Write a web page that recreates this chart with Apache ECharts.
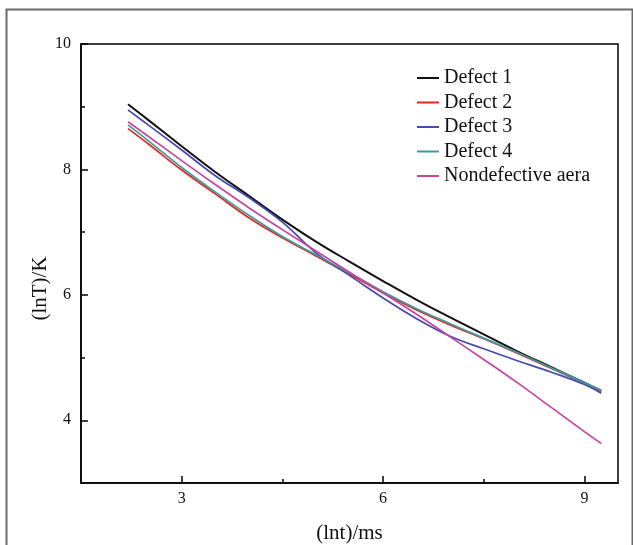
<!DOCTYPE html>
<html>
<head>
<meta charset="utf-8">
<script src="https://cdn.jsdelivr.net/npm/echarts@6/dist/echarts.min.js"></script>
<style>
html,body{margin:0;padding:0;background:#fff;}
#chart{width:633px;height:545px;}
</style>
</head>
<body>
<div id="chart"></div>
<script>
const xValues = [2.2, 2.5, 3, 3.5, 4, 4.5, 5, 5.5, 6, 6.5, 7, 7.5, 8, 8.5, 9, 9.25];
const defect1 = [9.04, 8.79, 8.37, 7.96, 7.58, 7.20, 6.85, 6.53, 6.22, 5.92, 5.64, 5.37, 5.10, 4.85, 4.60, 4.47];
const defect2 = [8.65, 8.41, 7.99, 7.61, 7.23, 6.91, 6.62, 6.33, 6.03, 5.76, 5.52, 5.30, 5.07, 4.83, 4.59, 4.46];
const defect3 = [8.95, 8.71, 8.31, 7.90, 7.55, 7.16, 6.67, 6.31, 5.95, 5.62, 5.34, 5.14, 4.95, 4.77, 4.57, 4.43];
const defect4 = [8.71, 8.46, 8.03, 7.64, 7.27, 6.93, 6.64, 6.35, 6.05, 5.78, 5.54, 5.31, 5.08, 4.84, 4.60, 4.48];
const nondefective = [8.76, 8.53, 8.14, 7.76, 7.39, 7.04, 6.70, 6.36, 6.03, 5.69, 5.33, 4.97, 4.60, 4.21, 3.82, 3.63];
const seriesNames = ['Defect 1', 'Defect 2', 'Defect 3', 'Defect 4', 'Nondefective aera'];
const seriesColors = ['#111111', '#e8261f', '#4848b0', '#3a9ba0', '#c8459f'];
const xMajorTicks = [3, 6, 9];
const xMinorTicks = [4.5, 7.5];
const yMajorTicks = [4, 6, 8, 10];
const yMinorTicks = [5, 7, 9];

const FONT = '"Liberation Serif", "DejaVu Serif", serif';
const allData = [defect1, defect2, defect3, defect4, nondefective];
const chart = echarts.init(document.getElementById('chart'));

const xBase = {type: 'value', min: 1.5, max: 9.5, gridIndex: 0, position: 'bottom', splitLine: {show: false}, nameMoveOverlap: false};
const yBase = {type: 'value', min: 3, max: 10, gridIndex: 0, position: 'left', splitLine: {show: false}, nameMoveOverlap: false};

chart.setOption({
  backgroundColor: '#ffffff',
  animation: false,
  graphic: [{
    type: 'rect', left: 4, top: 7, silent: true,
    shape: {width: 626, height: 600},
    style: {fill: 'none', stroke: '#6a6a6a', lineWidth: 2}
  }],
  grid: {left: 81, right: 15, top: 44, bottom: 62, show: true, borderColor: '#000', borderWidth: 1.5, backgroundColor: 'transparent', containLabel: false, outerBoundsMode: 'none'},
  legend: {
    left: 417, top: 66, orient: 'vertical', itemWidth: 22, itemHeight: 2, itemGap: 0.5,
    padding: 0,
    icon: 'rect',
    data: seriesNames,
    textStyle: {fontFamily: FONT, fontSize: 20, color: '#111', lineHeight: 24}
  },
  xAxis: [
    Object.assign({}, xBase, {
      name: '(lnt)/ms', nameLocation: 'middle', nameGap: 40,
      nameTextStyle: {fontFamily: FONT, fontSize: 21, color: '#111'},
      axisLine: {show: true, lineStyle: {color: '#000', width: 1.5}},
      axisTick: {show: true, inside: true, length: 7, customValues: xMajorTicks, lineStyle: {color: '#000', width: 1.5}},
      axisLabel: {customValues: xMajorTicks, margin: 8, fontFamily: FONT, fontSize: 16, color: '#111'}
    }),
    Object.assign({}, xBase, {
      axisLine: {show: false},
      axisTick: {show: true, inside: true, length: 4, customValues: xMinorTicks, lineStyle: {color: '#000', width: 1.5}},
      axisLabel: {show: false}
    })
  ],
  yAxis: [
    Object.assign({}, yBase, {
      name: '(lnT)/K', nameLocation: 'middle', nameGap: 30,
      nameTextStyle: {fontFamily: FONT, fontSize: 21, color: '#111', padding: [0, 50, 0, 0]},
      axisLine: {show: true, lineStyle: {color: '#000', width: 1.5}},
      axisTick: {show: true, inside: true, length: 7, customValues: yMajorTicks, lineStyle: {color: '#000', width: 1.5}},
      axisLabel: {customValues: yMajorTicks, margin: 10, fontFamily: FONT, fontSize: 16, color: '#111'}
    }),
    Object.assign({}, yBase, {
      axisLine: {show: false},
      axisTick: {show: true, inside: true, length: 4, customValues: yMinorTicks, lineStyle: {color: '#000', width: 1.5}},
      axisLabel: {show: false}
    })
  ],
  series: seriesNames.map((name, i) => ({
    name: name,
    type: 'line',
    xAxisIndex: 0, yAxisIndex: 0,
    smooth: 0.4,
    showSymbol: false,
    symbol: 'none',
    color: seriesColors[i],
    lineStyle: {width: i === 0 ? 2 : 1.7, color: seriesColors[i]},
    data: xValues.map((x, j) => [x, allData[i][j]])
  }))
});
</script>
</body>
</html>
